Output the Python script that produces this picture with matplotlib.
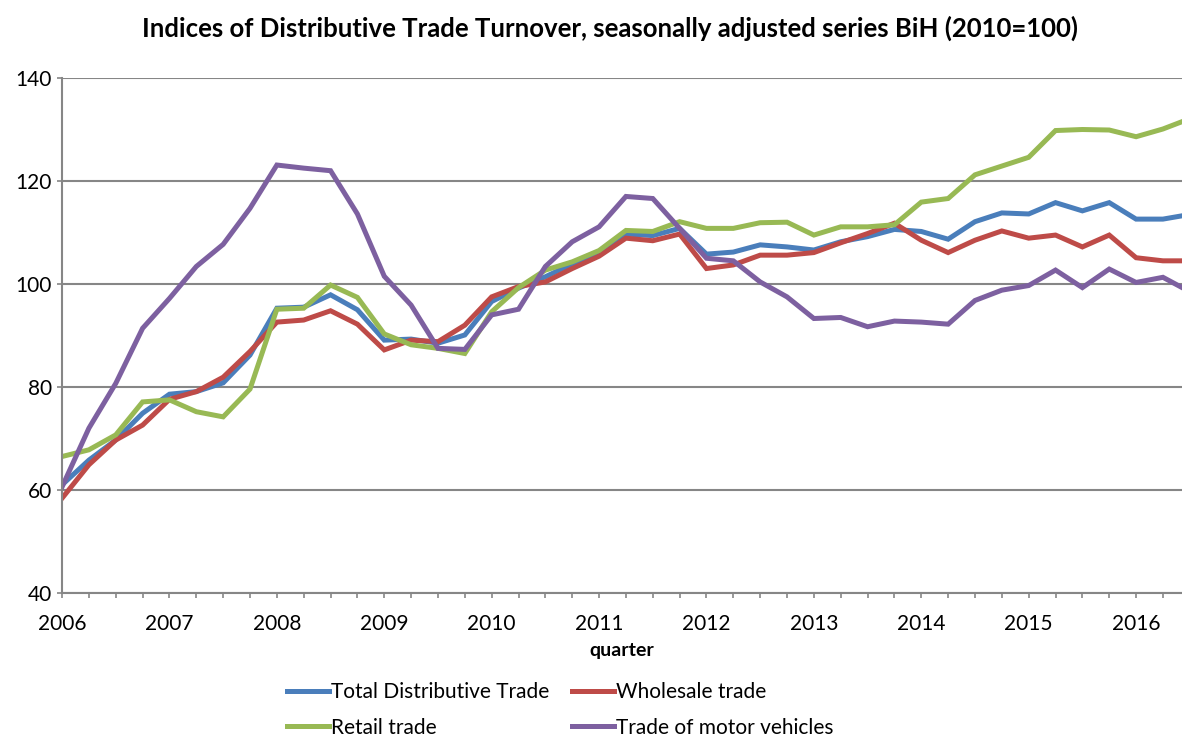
import numpy as np
import matplotlib.pyplot as plt
from matplotlib.ticker import MultipleLocator

plt.rcParams['font.family'] = ['Lato', 'DejaVu Sans']

years = list(range(2006, 2017))

total = [61.0, 65.8, 69.7, 74.9, 78.6, 79.1, 80.8, 86.2, 95.3, 95.5, 97.9, 95.0,
         89.1, 89.3, 88.5, 90.1, 96.6, 99.2, 101.4, 103.9, 106.0, 109.7, 109.4, 110.8,
         105.8, 106.2, 107.6, 107.2, 106.6, 108.2, 109.2, 110.6, 110.2, 108.7, 112.1, 113.8,
         113.6, 115.8, 114.2, 115.8, 112.6, 112.6, 113.5]
wholesale = [58.4, 64.9, 69.7, 72.6, 77.6, 79.1, 81.9, 86.9, 92.6, 93.0, 94.8, 92.2,
             87.2, 89.1, 88.8, 92.0, 97.5, 99.5, 100.4, 103.0, 105.4, 108.9, 108.4, 109.7,
             103.0, 103.7, 105.6, 105.6, 106.1, 108.0, 109.8, 111.8, 108.5, 106.1, 108.5, 110.3,
             108.9, 109.5, 107.2, 109.5, 105.1, 104.5, 104.5]
retail = [66.5, 67.8, 70.7, 77.1, 77.5, 75.2, 74.2, 79.6, 95.1, 95.3, 99.8, 97.4,
          90.3, 88.2, 87.5, 86.5, 94.6, 99.3, 102.7, 104.3, 106.5, 110.4, 110.2, 112.1,
          110.8, 110.8, 111.9, 112.0, 109.5, 111.1, 111.1, 111.5, 115.9, 116.6, 121.2, 122.9,
          124.6, 129.8, 130.0, 129.9, 128.6, 130.1, 132.1]
motor = [60.6, 72.0, 80.7, 91.4, 97.2, 103.4, 107.7, 114.7, 123.1, 122.5, 122.0, 113.6,
         101.5, 95.9, 87.5, 87.3, 94.0, 95.1, 103.4, 108.2, 111.1, 117.0, 116.6, 110.8,
         105.0, 104.5, 100.4, 97.5, 93.3, 93.5, 91.7, 92.8, 92.6, 92.2, 96.8, 98.8,
         99.7, 102.7, 99.3, 102.9, 100.3, 101.3, 98.5]

series = [
    (total, 'Total Distributive Trade', '#4A7EBB'),
    (wholesale, 'Wholesale trade', '#BE4B48'),
    (retail, 'Retail trade', '#98B954'),
    (motor, 'Trade of motor vehicles', '#7D60A0'),
]

fig = plt.figure(figsize=(11.82, 7.38), dpi=100)
ax = fig.add_axes([0.0525, 0.1965, 0.9475, 0.6978])

q = np.arange(len(total))
lines = []
for vals, name, col in series:
    ln, = ax.plot(q, vals, color=col, lw=3.6, label=name, solid_joinstyle='miter')
    lines.append(ln)

ax.set_xlim(0, 41.71)
ax.set_ylim(40, 140)
ax.yaxis.set_major_locator(MultipleLocator(20))
ax.set_xticks(np.arange(0, 41, 4))
ax.set_xticklabels([str(y) for y in years])
ax.xaxis.set_minor_locator(MultipleLocator(1))
ax.grid(axis='y', color='#868686', lw=1.5)
ax.set_axisbelow(True)
for s in ['top', 'right']:
    ax.spines[s].set_visible(False)
for s in ['left', 'bottom']:
    ax.spines[s].set_color('#868686')
    ax.spines[s].set_linewidth(1.5)
ax.tick_params(axis='both', which='both', color='#868686', width=1.2, length=3.6,
               labelsize=15)
ax.tick_params(axis='x', pad=11.5)
ax.tick_params(axis='y', pad=3.6)
ax.set_xlabel('quarter', fontsize=14, fontweight='bold', labelpad=6)

fig.text(610 / 1182, 1 - 28 / 738,
         'Indices of Distributive Trade Turnover, seasonally adjusted series BiH (2010=100)',
         fontsize=18.5, fontweight='bold', ha='center', va='center')

# matplotlib fills legend columns first, reorder so rows read like the original
order = [0, 2, 1, 3]
fig.legend([lines[i] for i in order], [series[i][1] for i in order],
           loc='center left', bbox_to_anchor=(287 / 1182, 1 - 710 / 738), ncol=2,
           frameon=False, fontsize=15, handlelength=2.0, handletextpad=0.1,
           columnspacing=1.1, labelspacing=0.72, borderpad=0, borderaxespad=0)

fig.savefig('out.png', dpi=100)
